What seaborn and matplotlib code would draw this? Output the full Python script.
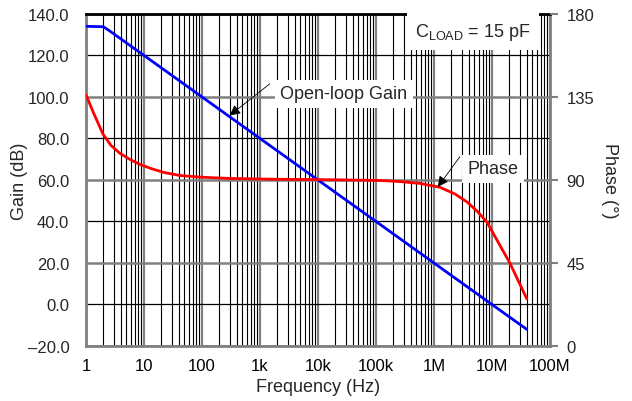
import matplotlib
matplotlib.use("Agg")
import matplotlib.pyplot as plt
import seaborn as sns
import numpy as np

# open-loop gain (dB)
gain_freq = [1, 2, 2.5, 10, 100, 1e3, 1e4, 1e5, 1e6, 1e7, 4e7]
gain_db = [134, 133.8, 132, 120, 100, 80, 60, 40, 20, 0, -12]

# phase (deg)
phase_freq = [1, 1.374, 1.963, 2.70, 3.86, 5.74, 8.53, 13.7, 23.0, 41.8, 92.4,
              304, 1487, 1.61e4, 1.17e5, 2.59e5, 5.74e5, 1.27e6, 2.30e6,
              3.71e6, 5.51e6, 8.20e6, 1.22e7, 2.04e7, 4.01e7]
phase_deg = [136.1, 125.8, 114.9, 108.7, 104.4, 101.1, 98.4, 96.0, 93.9, 92.4,
             91.5, 90.8, 90.4, 90.1, 89.7, 89.1, 88.1, 86.0, 82.4,
             78.1, 73.2, 67.2, 57.5, 45.0, 25.5]

x_ticks = [1, 10, 100, 1e3, 1e4, 1e5, 1e6, 1e7, 1e8]
x_labels = ["1", "10", "100", "1k", "10k", "100k", "1M", "10M", "100M"]
gain_ticks = [-20, 0, 20, 40, 60, 80, 100, 120, 140]
gain_labels = ["\u201320.0", "0.0", "20.0", "40.0", "60.0", "80.0", "100.0", "120.0", "140.0"]
phase_ticks = [0, 45, 90, 135, 180]

sns.set_style("white")
plt.rcParams["font.family"] = ["Liberation Sans", "DejaVu Sans"]
plt.rcParams["font.size"] = 12

fig = plt.figure(figsize=(6.32, 4.02), dpi=100)
ax = fig.add_axes([0.136, 0.137, 0.734, 0.826])

sns.lineplot(x=gain_freq, y=gain_db, ax=ax, color="#0000FF", lw=2, zorder=5)
ax.set_xscale("log")
ax.set_xlim(1, 1e8)
ax.set_ylim(-20, 140)
ax.set_xticks(x_ticks)
ax.set_xticklabels(x_labels)
ax.set_yticks(gain_ticks)
ax.set_yticklabels(gain_labels)
ax.xaxis.set_minor_locator(matplotlib.ticker.LogLocator(base=10, subs=np.arange(2, 10)))
ax.xaxis.set_minor_formatter(matplotlib.ticker.NullFormatter())
ax.tick_params(axis="x", which="both", length=0, pad=9, colors="black", labelsize=12)
ax.tick_params(axis="y", length=0, pad=12, labelsize=12)

ax.grid(True, which="major", axis="x", color="#808080", lw=1.6)
ax.grid(True, which="minor", axis="x", color="black", lw=0.8)
ax.grid(True, which="major", axis="y", color="black", lw=0.9)
for val, gl in zip(gain_ticks, ax.yaxis.get_gridlines()):
    if val in (-20, 20, 60, 100, 140):
        gl.set_color("#808080")
        gl.set_linewidth(1.8)

for side in ["left", "bottom", "right"]:
    ax.spines[side].set_color("#808080")
    ax.spines[side].set_linewidth(2)
ax.spines["top"].set_color("black")
ax.spines["top"].set_linewidth(2)

ax.set_xlabel("Frequency (Hz)", labelpad=3, fontsize=13)
ax.set_ylabel("Gain (dB)", labelpad=0, fontsize=13)

ax2 = ax.twinx()
sns.lineplot(x=phase_freq, y=phase_deg, ax=ax2, color="#FF0000", lw=2)
ax2.set_ylim(0, 180)
ax2.set_yticks(phase_ticks)
ax2.tick_params(axis="y", length=6, width=1.5, color="#808080", pad=6, labelsize=12)
ax2.set_ylabel("Phase (\u00b0)", rotation=270, labelpad=17, fontsize=13)
for s in ax2.spines.values():
    s.set_visible(False)

box = dict(boxstyle="square,pad=0.3", fc="white", ec="none")
arrow = dict(arrowstyle="-|>", color="black", lw=0.6, mutation_scale=16,
             shrinkA=0, shrinkB=0)
ax.annotate("", xy=(300, 91), xytext=(1480, 106.3), arrowprops=arrow, zorder=6)
ax.text(28000, 101.4, "Open-loop Gain", ha="center", va="center", bbox=box,
        fontsize=13, zorder=6)
ax2.annotate("", xy=(1.17e6, 86.2), xytext=(2.8e6, 102.5), arrowprops=arrow, zorder=6)
ax2.text(1.05e7, 96, "Phase", ha="center", va="center", bbox=box, fontsize=13, zorder=6)
ax2.text(0.834, 0.946, r"C$_\mathregular{LOAD}$ = 15 pF", transform=ax2.transAxes,
         ha="center", va="center", fontsize=13,
         bbox=dict(boxstyle="square,pad=0.45", fc="white", ec="none"), zorder=6)

fig.savefig("out.png", dpi=100)
